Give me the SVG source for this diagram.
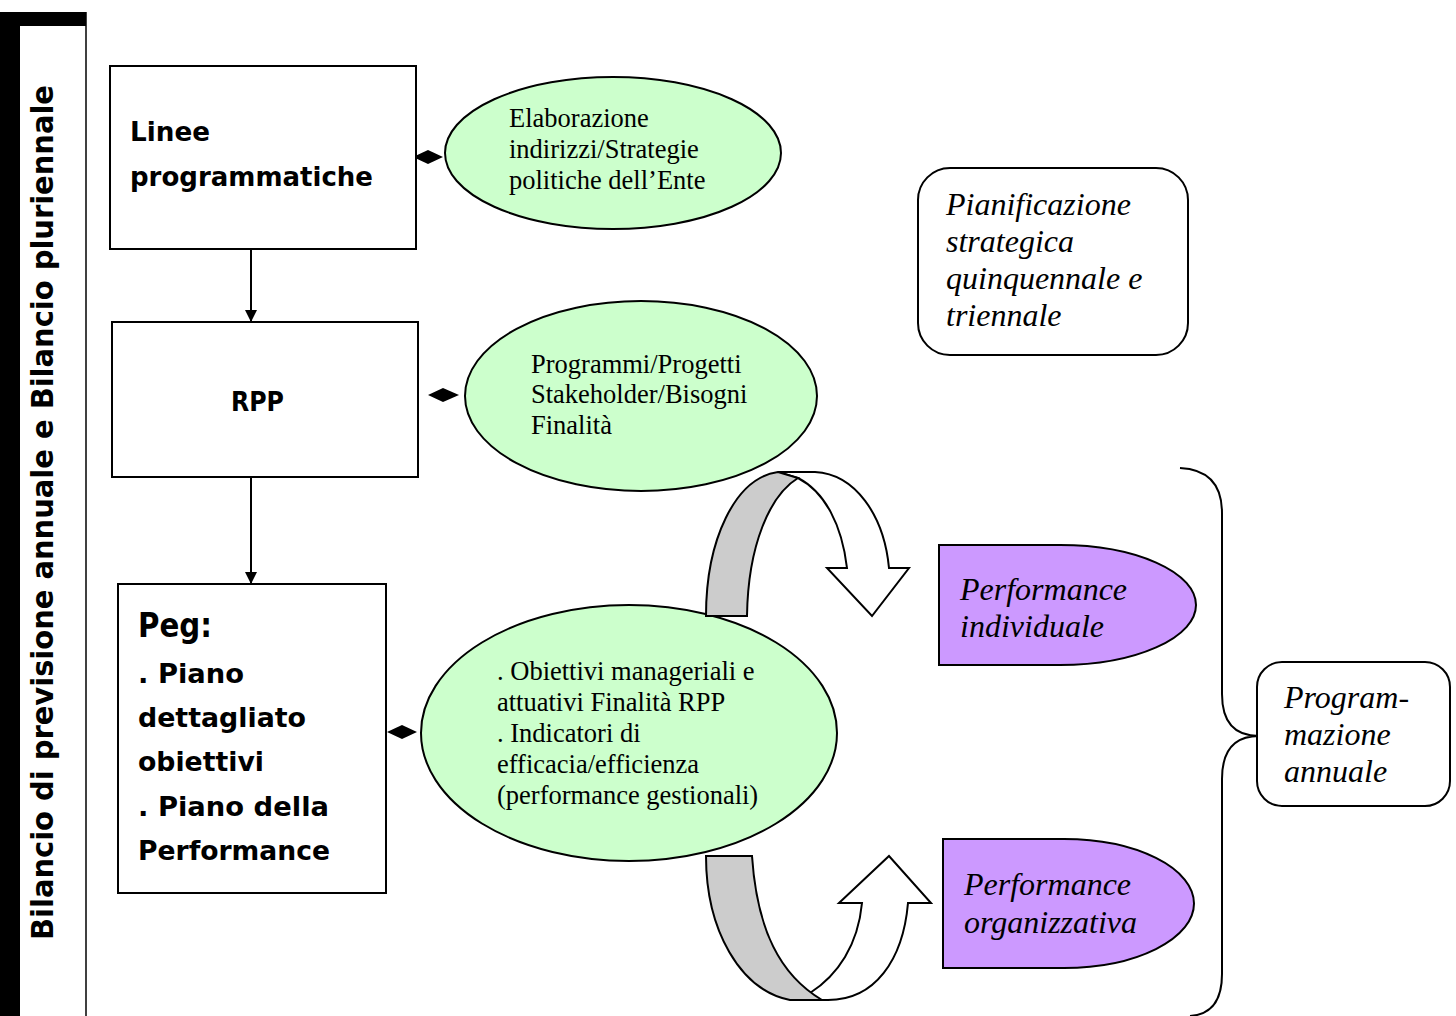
<svg xmlns="http://www.w3.org/2000/svg" width="1456" height="1016" viewBox="0 0 1456 1016">
<style>
.box{fill:#fff;stroke:#000;stroke-width:2}
.ell{fill:#ccffcc;stroke:#000;stroke-width:2}
.pur{fill:#cc99ff;stroke:#000;stroke-width:2}
.rnd{fill:#fff;stroke:#000;stroke-width:2}
.cb{font-family:"DejaVu Sans",sans-serif;font-weight:bold;font-size:27px;fill:#000}
.sr{font-family:"Liberation Serif",serif;font-size:26.5px;fill:#000}
.it{font-family:"Liberation Serif",serif;font-style:italic;font-size:32px;fill:#000}
.ln{stroke:#000;stroke-width:2;fill:none}
</style>
<defs>
<marker id="ah" markerWidth="12" markerHeight="12" refX="11" refY="6" orient="auto" markerUnits="userSpaceOnUse"><path d="M0,0 L12,6 L0,12 z" fill="#000"/></marker>
</defs>
<rect width="1456" height="1016" fill="#fff"/>
<g id="sidebar">
<rect x="0" y="12" width="86" height="14" fill="#000"/>
<rect x="0" y="12" width="20" height="1004" fill="#000"/>
<line x1="86" y1="12" x2="86" y2="1016" stroke="#000" stroke-width="1.5"/>
<text class="cb" transform="translate(53,940) rotate(-90)" style="font-size:30px" textLength="855" lengthAdjust="spacingAndGlyphs">Bilancio di previsione annuale e Bilancio pluriennale</text>
</g>
<g id="connectors">
<line class="ln" x1="251" y1="249" x2="251" y2="321" marker-end="url(#ah)"/>
<line class="ln" x1="251" y1="477" x2="251" y2="583" marker-end="url(#ah)"/>
<path d="M413,157 L428,150 L443,157 L428,164 Z" fill="#000"/>
<path d="M428,395 L443,388 L459,395 L443,402 Z" fill="#000"/>
<path d="M387,732 L402,725 L417,732 L402,739 Z" fill="#000"/>
<path d="M1180,468 Q1222,470 1222,513 V694 Q1222,736 1259,736 Q1222,736 1222,779 V974 Q1222,1014 1190,1016" class="ln"/>
</g>
<g id="node-linee">
<rect class="box" x="110" y="66" width="306" height="183"/>
<text class="cb" x="130" y="141" textLength="80" lengthAdjust="spacingAndGlyphs">Linee</text>
<text class="cb" x="130" y="186" textLength="243" lengthAdjust="spacingAndGlyphs">programmatiche</text>
</g>
<g id="node-rpp">
<rect class="box" x="112" y="322" width="306" height="155"/>
<text class="cb" x="231" y="411" textLength="53" lengthAdjust="spacingAndGlyphs">RPP</text>
</g>
<g id="node-peg">
<rect class="box" x="118" y="584" width="268" height="309"/>
<text class="cb" x="138" y="637" style="font-size:33px" textLength="74" lengthAdjust="spacingAndGlyphs">Peg:</text>
<text class="cb" x="138" y="683" textLength="106" lengthAdjust="spacingAndGlyphs">. Piano</text>
<text class="cb" x="138" y="727" textLength="168" lengthAdjust="spacingAndGlyphs">dettagliato</text>
<text class="cb" x="138" y="771" textLength="126" lengthAdjust="spacingAndGlyphs">obiettivi</text>
<text class="cb" x="138" y="816" textLength="191" lengthAdjust="spacingAndGlyphs">. Piano della</text>
<text class="cb" x="138" y="860" textLength="192" lengthAdjust="spacingAndGlyphs">Performance</text>
</g>
<g id="node-ell1">
<ellipse class="ell" cx="613" cy="153" rx="168" ry="76"/>
<text class="sr" x="509" y="127">Elaborazione</text>
<text class="sr" x="509" y="158">indirizzi/Strategie</text>
<text class="sr" x="509" y="189">politiche dell’Ente</text>
</g>
<g id="node-ell2">
<ellipse class="ell" cx="641" cy="396" rx="176" ry="95"/>
<text class="sr" x="531" y="373">Programmi/Progetti</text>
<text class="sr" x="531" y="403">Stakeholder/Bisogni</text>
<text class="sr" x="531" y="434">Finalità</text>
</g>
<g id="node-ell3">
<ellipse class="ell" cx="629" cy="733" rx="208" ry="128"/>
<text class="sr" x="497" y="680">. Obiettivi manageriali e</text>
<text class="sr" x="497" y="711">attuativi Finalità RPP</text>
<text class="sr" x="497" y="742">. Indicatori di</text>
<text class="sr" x="497" y="773">efficacia/efficienza</text>
<text class="sr" x="497" y="804">(performance gestionali)</text>
</g>
<g id="node-pianificazione">
<rect class="rnd" x="918" y="168" width="270" height="187" rx="32"/>
<text class="it" x="946" y="215">Pianificazione</text>
<text class="it" x="946" y="252">strategica</text>
<text class="it" x="946" y="289">quinquennale e</text>
<text class="it" x="946" y="326">triennale</text>
</g>
<g id="arrow-top">
<path d="M778,472 H815 C855,474 884,515 889,568 H909 L872,616 L827,568 H847 C842,525 825,492 798,478 Z" fill="#fff" stroke="#000" stroke-width="2" stroke-linejoin="miter"/>
<path d="M706,616 C706,540 735,478 778,472 L798,478 C770,495 748,545 747,616 Z" fill="#cccccc" stroke="#000" stroke-width="2"/>
</g>
<g id="arrow-bottom">
<path d="M790,1000 H828 C875,1000 903,960 908,903 H931 L889,856 L839,903 H862 C858,945 838,975 810,993 Z" fill="#fff" stroke="#000" stroke-width="2"/>
<path d="M706,856 H752 C757,930 780,975 822,1000 H790 C740,990 706,930 706,856 Z" fill="#cccccc" stroke="#000" stroke-width="2"/>
</g>
<g id="node-perf-ind">
<path class="pur" d="M939,545 H1060 A136,60 0 0 1 1060,665 H939 Z"/>
<text class="it" x="960" y="600">Performance</text>
<text class="it" x="960" y="637">individuale</text>
</g>
<g id="node-perf-org">
<path class="pur" d="M943,839 H1064 A130,64.5 0 0 1 1064,968 H943 Z"/>
<text class="it" x="964" y="895">Performance</text>
<text class="it" x="964" y="933">organizzativa</text>
</g>
<g id="node-programmazione">
<rect class="rnd" x="1257" y="662" width="193" height="144" rx="25"/>
<text class="it" x="1284" y="708">Program-</text>
<text class="it" x="1284" y="745">mazione</text>
<text class="it" x="1284" y="782">annuale</text>
</g>
</svg>
